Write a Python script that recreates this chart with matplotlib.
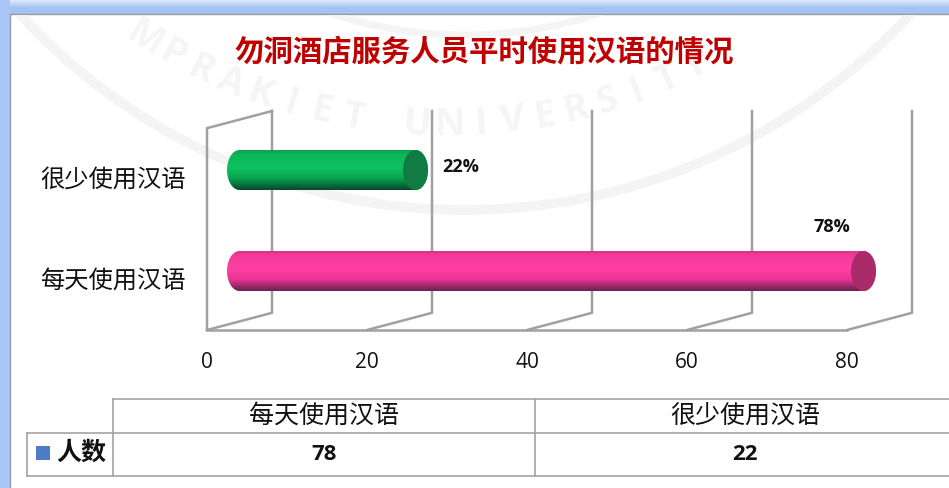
import matplotlib
matplotlib.use("Agg")
import matplotlib.pyplot as plt
from matplotlib.colors import LinearSegmentedColormap
from matplotlib.patches import Ellipse, PathPatch, Rectangle, Circle
from matplotlib.path import Path
from matplotlib.transforms import ScaledTranslation
import numpy as np

plt.rcParams['font.family'] = ['Open Sans', 'Noto Sans CJK SC', 'DejaVu Sans']

title = "勿洞酒店服务人员平时使用汉语的情况"
categories = ["每天使用汉语", "很少使用汉语"]
values = [78, 22]
percent_labels = ["78%", "22%"]
x_ticks = [0, 20, 40, 60, 80]
series_name = "人数"
watermark = "HMPRAKIET UNIVERSITY"

W, H = 949, 488
wall = "#a0a0a0"
depth_x = 65 / 8  # depth of the 3d box, in data units
depth_y = 0.17
bar_h = 0.396
cap_w = 25 / 8
label_off = [(0.1, 0.44), (9.75, 0.03)]


def box(x0, y0, x1, y1):
    return [x0 / W, 1 - y1 / H, (x1 - x0) / W, (y1 - y0) / H]


fig = plt.figure(figsize=(W / 100, H / 100), dpi=100)

# window frame, watermark and table live in pixel coordinates
bg = fig.add_axes([0, 0, 1, 1])
bg.set_xlim(0, W)
bg.set_ylim(H, 0)
bg.axis("off")
frame = LinearSegmentedColormap.from_list("frame", ["#dbe7fb", "#a4c3f5", "#a4c3f5"])
bg.imshow(np.linspace(0, 1, 16).reshape(-1, 1), cmap=frame, extent=(0, W, 15, 0), aspect="auto")
bg.add_patch(Rectangle((0, 0), 10, H, color="#a9c6f6", lw=0))
bg.add_patch(Rectangle((10, 14), W, H, fc="white", ec="#9a9a9a", lw=1))
bg.set_xlim(0, W)
bg.set_ylim(H, 0)

ring_clip = Rectangle((11, 15), W, H, transform=bg.transData)
for cy, r, lw in [(-394, 604, 7), (-394, 429, 5)]:
    ring = Circle((465, cy), r, fill=False, ec="#f4f4f4", lw=lw)
    bg.add_patch(ring)
    ring.set_clip_path(ring_clip)
cx, cy, r = 445, -441, 566
for i, ch in enumerate(watermark[1:], start=1):
    ang = np.radians(125.2 - i * 3.24)
    rot = np.degrees(ang) - 90
    bg.text(cx + r * np.cos(ang), cy + r * np.sin(ang), ch, fontsize=27, color="#f5f5f5",
            rotation=-rot, ha="center", va="center", fontweight="bold")

bg.text(484, 53, title, fontsize=21.2, fontweight="bold", color="#c00000", ha="center", va="center")

# chart
ax = fig.add_axes(box(207, 111, 912, 330))
ax.patch.set_alpha(0)
colors = [
    ["#d62f86", "#f23a99", "#ff3fa1", "#e93596", "#6b2050"],
    ["#0a9f4b", "#0bb556", "#0ec25f", "#0ba34f", "#05482a"],
]
cap_colors = ["#a92c69", "#107b43"]
y_pos = np.arange(len(values))

for y, v, c, cap, lab, off in zip(y_pos, values, colors, cap_colors, percent_labels, label_off):
    x0 = depth_x / 2
    x1 = x0 + v
    t = np.linspace(np.pi / 2, -np.pi / 2, 30)
    right = np.column_stack([x1 + cap_w / 2 * np.cos(t), y + bar_h / 2 * np.sin(t)])
    left = np.column_stack([x0 - cap_w / 2 * np.cos(t), y - bar_h / 2 * np.sin(t)])
    pts = np.vstack([right, left, right[:1]])
    shape = PathPatch(Path(pts), fc="none", ec="none")
    ax.add_patch(shape)
    cmap = LinearSegmentedColormap.from_list("bar", list(zip([0, 0.12, 0.45, 0.72, 1], c)))
    im = ax.imshow(np.linspace(0, 1, 64).reshape(-1, 1), cmap=cmap, aspect="auto", zorder=3,
                   extent=(x0 - cap_w, x1 + cap_w, y - bar_h / 2, y + bar_h / 2))
    im.set_clip_path(shape)
    ax.add_patch(Ellipse((x1, y), cap_w, bar_h, fc=cap, ec="none", zorder=4))
    ax.text(v + off[0], y + off[1], lab, fontsize=13, fontweight="bold", color="#111111",
            va="center", ha="center", zorder=5)

y_min, y_max = -0.584, 1.584
ax.set_xlim(0, 80 + depth_x)
ax.set_ylim(y_min, y_max)

# 3d box lines
for xt in x_ticks:
    ax.plot([xt, xt + depth_x, xt + depth_x], [y_min, y_min + depth_y, y_max],
            color=wall, lw=1.8, clip_on=False, zorder=2, solid_joinstyle="miter")
ax.plot([0, 80], [y_min, y_min], color=wall, lw=1.8, clip_on=False, zorder=2)
ax.plot([0, 0, depth_x], [y_min, y_max - depth_y, y_max], color=wall, lw=1.8, clip_on=False,
        zorder=2, solid_joinstyle="miter")

for s in ax.spines.values():
    s.set_visible(False)
ax.set_xticks(x_ticks)
ax.set_yticks(y_pos)
ax.set_yticklabels(categories, fontsize=17.5, color="#111111")
ax.tick_params(axis="x", length=0, pad=16, labelsize=15, labelcolor="#111111")
ax.tick_params(axis="y", length=0, pad=15.5)
shift = ScaledTranslation(0, -8 / 100, fig.dpi_scale_trans)
for tl in ax.get_yticklabels():
    tl.set_transform(tl.get_transform() + shift)

# data table under the chart
line = "#a3a3a3"
tx = [27, 113, 535, W]
ty = [399, 433, 476]
bg.plot([tx[1], W], [ty[0], ty[0]], color=line, lw=1.2)
bg.plot([tx[0], W], [ty[1], ty[1]], color=line, lw=1.2)
bg.plot([tx[0], W], [ty[2], ty[2]], color=line, lw=1.2)
bg.plot([tx[0], tx[0]], [ty[1], ty[2]], color=line, lw=1.2)
bg.plot([tx[1], tx[1]], [ty[0], ty[2]], color=line, lw=1.2)
bg.plot([tx[2], tx[2]], [ty[0], ty[2]], color=line, lw=1.2)
bg.add_patch(Rectangle((36, 446), 14, 14, color="#4f7cc9", lw=0))
bg.text(81, 453, series_name, fontsize=18, fontweight="bold", color="#111111", ha="center", va="center")
for i, (cat, v) in enumerate(zip(categories, values)):
    mid = 324 if i == 0 else 745
    bg.text(mid, 416, cat, fontsize=18, color="#111111", ha="center", va="center")
    bg.text(mid, 454, str(v), fontsize=16, fontweight="bold", color="#111111", ha="center", va="center")

fig.savefig("out.png", dpi=100)
